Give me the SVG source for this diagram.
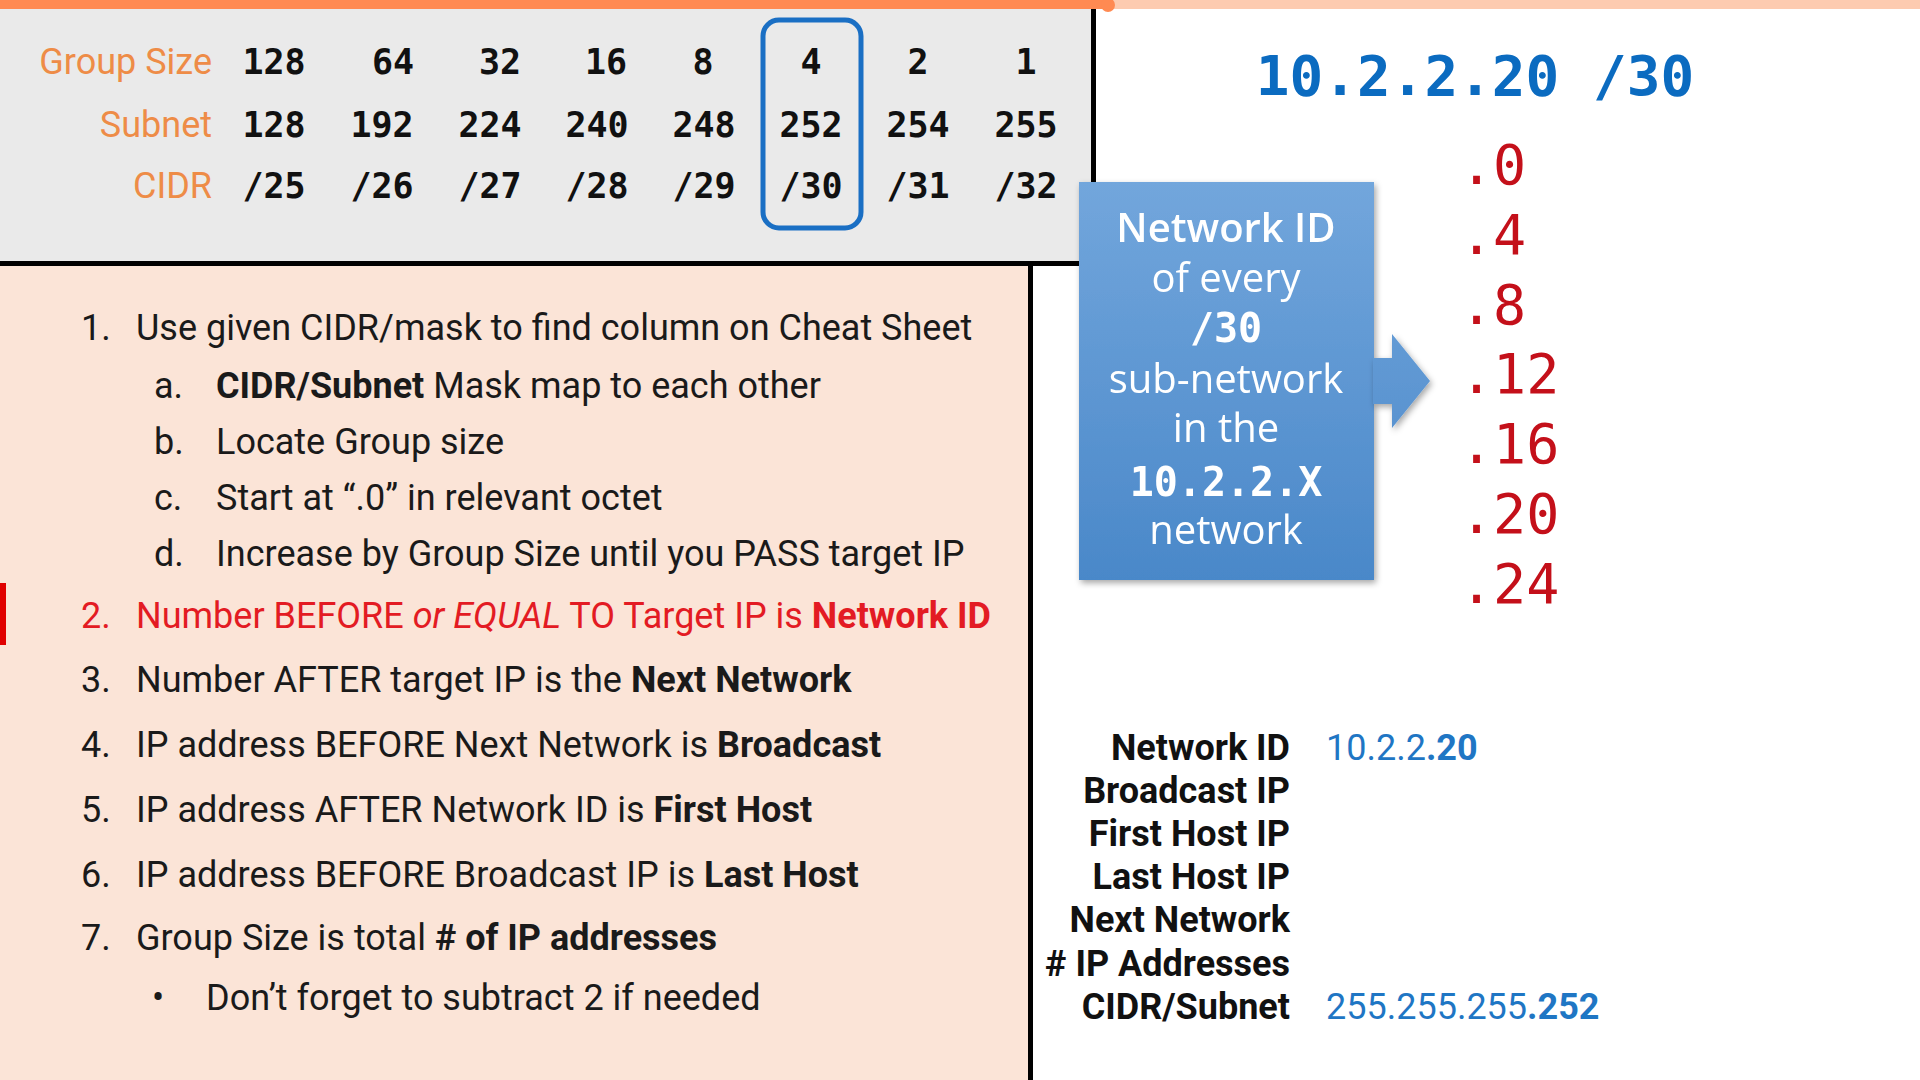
<svg xmlns="http://www.w3.org/2000/svg" width="1920" height="1080" viewBox="0 0 1920 1080">
<defs>
<linearGradient id="boxGrad" gradientUnits="userSpaceOnUse" x1="0" y1="182" x2="0" y2="580">
<stop offset="0" stop-color="#72A6DC"/>
<stop offset="1" stop-color="#4A88C9"/>
</linearGradient>
<filter id="shadow" x="-10%" y="-10%" width="130%" height="130%">
<feDropShadow dx="2" dy="3" stdDeviation="3" flood-color="#000" flood-opacity="0.35"/>
</filter>
</defs>
<style>
.lbl{font-family:Roboto,"Liberation Sans",sans-serif;font-size:36px;fill:#EE8C47;text-anchor:end}
.num{font-family:"DejaVu Sans Mono","Liberation Mono",monospace;font-weight:700;font-size:35px;fill:#111;text-anchor:middle}
.item{font-family:Roboto,"Liberation Sans",sans-serif;font-size:36px;fill:#1a1a1a}
.red{fill:#E31B23}
.b{font-weight:700}
.box{font-family:"Open Sans","Noto Sans",sans-serif;font-size:40px;fill:#fff;text-anchor:middle}
.boxmono{font-family:"DejaVu Sans Mono","Liberation Mono",monospace;font-weight:700;font-size:40px;fill:#fff;text-anchor:middle}
.rn{font-family:"DejaVu Sans Mono","Liberation Mono",monospace;font-size:55px;fill:#C4101A}
.rl{font-family:Roboto,"Liberation Sans",sans-serif;font-weight:700;font-size:36px;fill:#111;text-anchor:end}
.rv{font-family:Roboto,"Liberation Sans",sans-serif;font-size:36px;fill:#1F76C4}
</style>

<g id="background">
<rect x="0" y="0" width="1920" height="1080" fill="#fff"/>
<rect x="0" y="0" width="1920" height="9" fill="#FDCBB0"/>
<rect x="0" y="0" width="1108" height="9" fill="#FF8A52"/>
<circle cx="1108" cy="5" r="7" fill="#FF8A52"/>
<rect x="0" y="9" width="1093" height="254" fill="#EAEAEA"/>
<rect x="0" y="266" width="1029" height="814" fill="#FBE4D7"/>
<rect x="1091" y="9" width="5" height="257" fill="#000"/>
<rect x="0" y="261" width="1096" height="5" fill="#000"/>
<rect x="1028" y="261" width="5" height="819" fill="#000"/>
</g>

<g id="cheat-sheet">
<text class="lbl" x="212" y="74">Group Size</text>
<text class="lbl" x="212" y="137">Subnet</text>
<text class="lbl" x="212" y="198">CIDR</text>
<text class="num" x="274" y="74">128</text>
<text class="num" x="393" y="74">64</text>
<text class="num" x="500" y="74">32</text>
<text class="num" x="606" y="74">16</text>
<text class="num" x="703" y="74">8</text>
<text class="num" x="811" y="74">4</text>
<text class="num" x="918" y="74">2</text>
<text class="num" x="1026" y="74">1</text>
<text class="num" x="274" y="137">128</text>
<text class="num" x="382" y="137">192</text>
<text class="num" x="490" y="137">224</text>
<text class="num" x="597" y="137">240</text>
<text class="num" x="704" y="137">248</text>
<text class="num" x="811" y="137">252</text>
<text class="num" x="918" y="137">254</text>
<text class="num" x="1026" y="137">255</text>
<text class="num" x="274" y="198">/25</text>
<text class="num" x="382" y="198">/26</text>
<text class="num" x="490" y="198">/27</text>
<text class="num" x="597" y="198">/28</text>
<text class="num" x="704" y="198">/29</text>
<text class="num" x="811" y="198">/30</text>
<text class="num" x="918" y="198">/31</text>
<text class="num" x="1026" y="198">/32</text>
<rect id="highlight" x="763" y="20" width="98" height="208" rx="16" fill="none" stroke="#1A6FC4" stroke-width="5"/>
</g>

<g id="steps">
<rect x="0" y="583" width="6" height="62" fill="#E00000"/>
<text class="item" x="81" y="340">1.</text>
<text class="item" x="136" y="340">Use given CIDR/mask to find column on Cheat Sheet</text>
<text class="item" x="154" y="398">a.</text>
<text class="item" x="216" y="398"><tspan class="b">CIDR/Subnet</tspan> Mask map to each other</text>
<text class="item" x="154" y="454">b.</text>
<text class="item" x="216" y="454">Locate Group size</text>
<text class="item" x="154" y="510">c.</text>
<text class="item" x="216" y="510">Start at “.0” in relevant octet</text>
<text class="item" x="154" y="566">d.</text>
<text class="item" x="216" y="566">Increase by Group Size until you PASS target IP</text>
<text class="item red" x="81" y="628">2.</text>
<text class="item red" x="136" y="628">Number BEFORE <tspan font-style="italic">or EQUAL</tspan> TO Target IP is <tspan class="b">Network ID</tspan></text>
<text class="item" x="81" y="692">3.</text>
<text class="item" x="136" y="692">Number AFTER target IP is the <tspan class="b">Next Network</tspan></text>
<text class="item" x="81" y="757">4.</text>
<text class="item" x="136" y="757">IP address BEFORE Next Network is <tspan class="b">Broadcast</tspan></text>
<text class="item" x="81" y="822">5.</text>
<text class="item" x="136" y="822">IP address AFTER Network ID is <tspan class="b">First Host</tspan></text>
<text class="item" x="81" y="887">6.</text>
<text class="item" x="136" y="887">IP address BEFORE Broadcast IP is <tspan class="b">Last Host</tspan></text>
<text class="item" x="81" y="950">7.</text>
<text class="item" x="136" y="950">Group Size is total <tspan class="b"># of IP addresses</tspan></text>
<text class="item" x="152" y="1010">•</text>
<text class="item" x="206" y="1010">Don’t forget to subtract 2 if needed</text>
</g>

<g id="target">
<text x="1475" y="95" font-family="'DejaVu Sans Mono','Liberation Mono',monospace" font-weight="700" font-size="56" fill="#0B6BC0" text-anchor="middle">10.2.2.20 /30</text>
</g>

<g id="network-id-box" filter="url(#shadow)">
<rect x="1079" y="182" width="295" height="398" fill="url(#boxGrad)"/>
<text class="box" x="1226" y="242" font-weight="600">Network ID</text>
<text class="box" x="1226" y="292">of every</text>
<text class="boxmono" x="1226" y="342">/30</text>
<text class="box" x="1226" y="393">sub-network</text>
<text class="box" x="1226" y="442">in the</text>
<text class="boxmono" x="1226" y="496">10.2.2.X</text>
<text class="box" x="1226" y="544">network</text>
</g>

<g id="connectors" filter="url(#shadow)">
<path d="M1373,358 H1392 V334 L1430,381 L1392,428 V404 H1373 Z" fill="url(#boxGrad)"/>
</g>

<g id="network-ids">
<text class="rn" x="1460" y="184">.0</text>
<text class="rn" x="1460" y="254">.4</text>
<text class="rn" x="1460" y="324">.8</text>
<text class="rn" x="1460" y="393">.12</text>
<text class="rn" x="1460" y="463">.16</text>
<text class="rn" x="1460" y="533">.20</text>
<text class="rn" x="1460" y="603">.24</text>
</g>

<g id="results">
<text class="rl" x="1290" y="760">Network ID</text>
<text class="rl" x="1290" y="803">Broadcast IP</text>
<text class="rl" x="1290" y="846">First Host IP</text>
<text class="rl" x="1290" y="889">Last Host IP</text>
<text class="rl" x="1290" y="932">Next Network</text>
<text class="rl" x="1290" y="976"># IP Addresses</text>
<text class="rl" x="1290" y="1019">CIDR/Subnet</text>
<text class="rv" x="1326" y="760">10.2.2<tspan class="b">.20</tspan></text>
<text class="rv" x="1326" y="1019">255.255.255<tspan class="b">.252</tspan></text>
</g>
</svg>
